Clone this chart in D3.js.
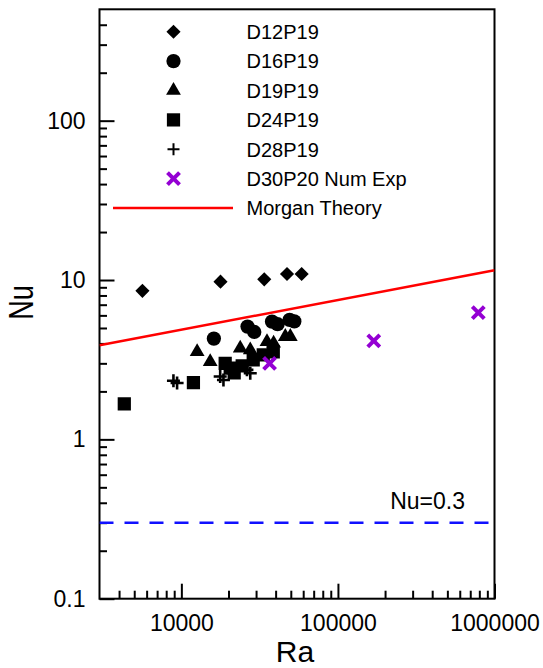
<!DOCTYPE html>
<html>
<head>
<meta charset="utf-8">
<script src="https://cdn.jsdelivr.net/npm/d3@7"></script>
<style>
html,body{margin:0;padding:0;background:#fff;}
svg{display:block;font-family:"Liberation Sans",Arial,Helvetica,sans-serif;}
</style>
</head>
<body>
<svg id="chart" width="543" height="668"></svg>
<script>
// ---- data ----
const raTicks = [10000, 100000, 1000000];
const nuTicks = [0.1, 1, 10, 100];
const raTickLabels = ["10000", "100000", "1000000"];
const nuTickLabels = ["0.1", "1", "10", "100"];

const seriesNames = ["D12P19", "D16P19", "D19P19", "D24P19", "D28P19", "D30P20 Num Exp"];
const d12Ra = [5640, 17780, 33840, 47300, 58650];
const d12Nu = [8.55, 9.77, 10.1, 10.9, 10.9];
const d16Ra = [16130, 26460, 29220, 37920, 41170, 49130, 52650];
const d16Nu = [4.29, 5.10, 4.72, 5.48, 5.28, 5.62, 5.50];
const d19Ra = [12610, 15280, 23760, 27540, 35220, 38820, 46110, 49640];
const d19Nu = [3.55, 3.07, 3.73, 3.64, 4.10, 4.01, 4.41, 4.41];
const d24Ra = [4320, 11940, 19050, 20510, 21750, 24470, 28770, 33340, 38640];
const d24Nu = [1.67, 2.27, 3.00, 2.80, 2.61, 2.89, 3.15, 3.39, 3.54];
const d28Ra = [8900, 9390, 17700, 18570, 26230, 27540];
const d28Nu = [2.33, 2.26, 2.48, 2.36, 2.73, 2.60];
const d30Ra = [36600, 169400, 788000];
const d30Nu = [3.00, 4.15, 6.24];

const morganRa = [3000, 1000000];
const morganNu = [3.90, 11.5];
const morganName = "Morgan Theory";
const limitNu = 0.3;
const limitLabel = "Nu=0.3";

// ---- layout ----
const svg = d3.select("#chart");
const L = 99.5, R = 494.5, T = 9.3, B = 598.7;
const x = d3.scaleLog().domain([3000, 1000000]).range([L, R]);
const y = d3.scaleLog().domain([0.1, 500]).range([B, T]);

svg.append("rect").attr("width", 543).attr("height", 668).attr("fill", "#fff");

svg.append("clipPath").attr("id", "clip")
  .append("rect").attr("x", L).attr("y", T).attr("width", R - L).attr("height", B - T);

// minor ticks
const minorY = [];
[0.1, 1, 10, 100].forEach(b => { for (let k = 2; k <= 9; k++) { const v = b * k; if (v < 500) minorY.push(v); } });
const minorX = [];
[1000, 10000, 100000].forEach(b => { for (let k = 2; k <= 9; k++) { const v = b * k; if (v > 3000 && v < 1000000) minorX.push(v); } });

function styleAxis(g) {
  g.select(".domain").remove();
  g.selectAll(".tick line").attr("stroke", "#000").attr("stroke-width", 2);
  g.selectAll(".tick text").attr("fill", "#000").style("font-size", "23px")
    .style("font-family", "'Liberation Sans', Arial, sans-serif");
}

// Y axis
svg.append("g").attr("transform", `translate(${L},0)`)
  .call(d3.axisLeft(y).tickValues(minorY).tickSize(-7.5).tickFormat(""))
  .call(styleAxis);
svg.append("g").attr("transform", `translate(${L},0)`)
  .call(d3.axisLeft(y).tickValues(nuTicks).tickSize(-15).tickPadding(14)
    .tickFormat((d, i) => nuTickLabels[i]))
  .call(styleAxis);

// X axis
svg.append("g").attr("transform", `translate(0,${B})`)
  .call(d3.axisBottom(x).tickValues(minorX).tickSize(-8).tickFormat(""))
  .call(styleAxis);
svg.append("g").attr("transform", `translate(0,${B})`)
  .call(d3.axisBottom(x).tickValues(raTicks).tickSize(-15).tickPadding(16)
    .tickFormat((d, i) => raTickLabels[i]))
  .call(styleAxis);

// frame
svg.append("rect").attr("x", L).attr("y", T).attr("width", R - L).attr("height", B - T)
  .attr("fill", "none").attr("stroke", "#000").attr("stroke-width", 2);

// axis titles
svg.append("text").attr("x", (L + R) / 2 - 2).attr("y", 661.5).attr("text-anchor", "middle")
  .style("font-size", "30px").text("Ra");
svg.append("text").attr("transform", "translate(33.3,302.5) rotate(-90) scale(1,1.28)")
  .attr("text-anchor", "middle").style("font-size", "27px").text("Nu");

// lines
const plot = svg.append("g").attr("clip-path", "url(#clip)");
const lineGen = d3.line().x(d => x(d[0])).y(d => y(d[1]));
plot.append("path").datum([[x.domain()[0], limitNu], [x.domain()[1], limitNu]])
  .attr("d", lineGen).attr("fill", "none").attr("stroke", "#1010ff")
  .attr("stroke-width", 2.6).attr("stroke-dasharray", "14,11");
plot.append("path").datum(morganRa.map((r, i) => [r, morganNu[i]]))
  .attr("d", lineGen).attr("fill", "none").attr("stroke", "#ff0000").attr("stroke-width", 2.5);

svg.append("text").attr("x", 465).attr("y", 508.5).attr("text-anchor", "end")
  .style("font-size", "23px").text(limitLabel);

// markers
const purple = "#9400D3";
function drawMarker(g, kind, legend) {
  if (kind === "diamond") {
    g.append("path").attr("d", d3.symbol(d3.symbolSquare, 100)()).attr("transform", "rotate(45)").attr("fill", "#000");
  } else if (kind === "circle") {
    g.append("path").attr("d", d3.symbol(d3.symbolCircle, 160)()).attr("fill", "#000");
  } else if (kind === "triangle") {
    g.append("path").attr("d", d3.symbol(d3.symbolTriangle, 95)()).attr("fill", "#000");
  } else if (kind === "square") {
    g.append("path").attr("d", d3.symbol(d3.symbolSquare, 175)()).attr("fill", "#000");
  } else if (kind === "plus") {
    const a = legend ? 6 : 6.5;
    g.append("path").attr("d", `M${-a},0H${a}M0,${-a}V${a}`).attr("stroke", "#000")
      .attr("stroke-width", legend ? 2 : 2.6).attr("fill", "none");
  } else if (kind === "x") {
    g.append("path").attr("d", "M-6,-6L6,6M-6,6L6,-6").attr("stroke", purple).attr("stroke-width", 4).attr("fill", "none");
  }
}

const series = [
  { name: seriesNames[0], ra: d12Ra, nu: d12Nu, kind: "diamond" },
  { name: seriesNames[1], ra: d16Ra, nu: d16Nu, kind: "circle" },
  { name: seriesNames[2], ra: d19Ra, nu: d19Nu, kind: "triangle" },
  { name: seriesNames[3], ra: d24Ra, nu: d24Nu, kind: "square" },
  { name: seriesNames[4], ra: d28Ra, nu: d28Nu, kind: "plus" },
  { name: seriesNames[5], ra: d30Ra, nu: d30Nu, kind: "x" }
];

series.forEach(s => {
  const g = plot.append("g");
  s.ra.forEach((r, i) => {
    const mg = g.append("g").attr("transform", `translate(${x(r)},${y(s.nu[i])})`);
    drawMarker(mg, s.kind, false);
  });
});

// legend
const legY0 = 31.7, legDy = 29.4, legMX = 173.5, legTX = 246.5;
const leg = svg.append("g");
series.forEach((s, i) => {
  const yy = legY0 + i * legDy;
  const mg = leg.append("g").attr("transform", `translate(${legMX},${yy})`);
  drawMarker(mg, s.kind, true);
  leg.append("text").attr("x", legTX).attr("y", yy).attr("dy", "0.36em")
    .style("font-size", "20px").text(s.name);
});
const my = legY0 + 6 * legDy;
leg.append("line").attr("x1", 113).attr("x2", 233).attr("y1", my).attr("y2", my)
  .attr("stroke", "#ff0000").attr("stroke-width", 2.5);
leg.append("text").attr("x", legTX).attr("y", my).attr("dy", "0.36em")
  .style("font-size", "20px").text(morganName);
</script>
</body>
</html>
